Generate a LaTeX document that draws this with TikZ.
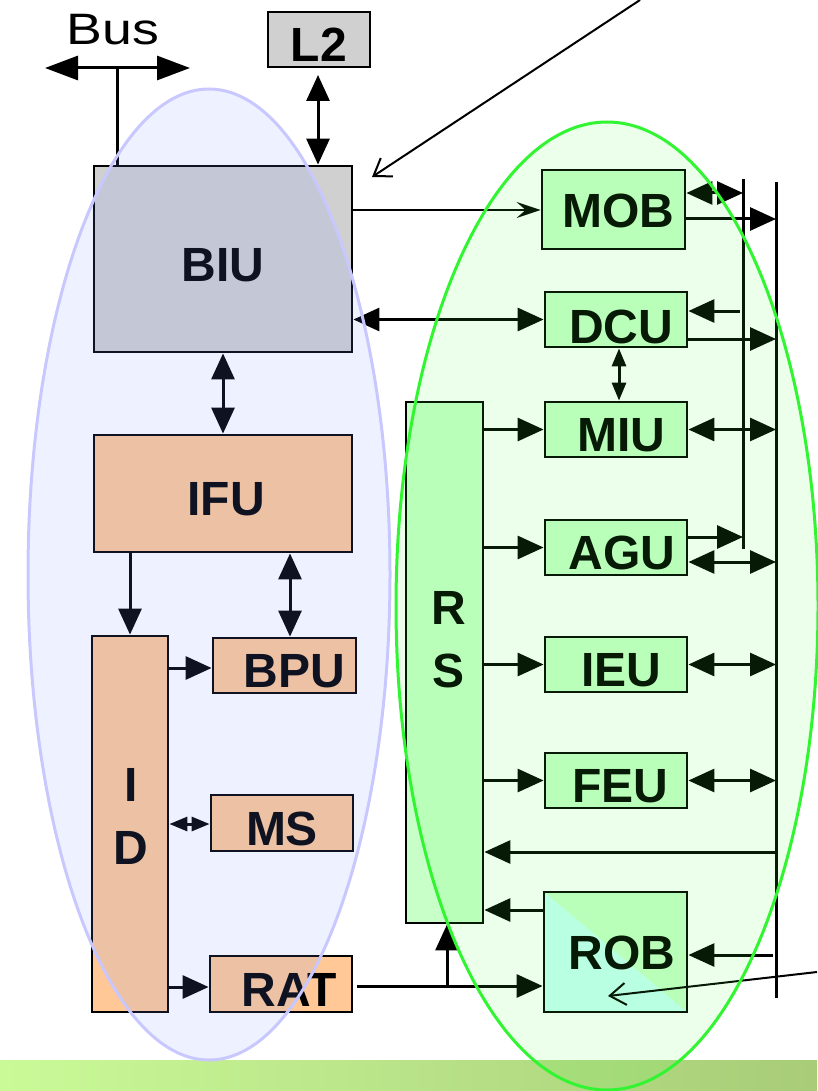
\documentclass[tikz,border=0pt]{standalone}
\usepackage{fontspec}
\setmainfont{Liberation Sans}
\usepackage{graphicx}
\usetikzlibrary{arrows.meta,calc}
\definecolor{grayc}{RGB}{208,208,208}
\definecolor{orc}{RGB}{255,200,150}
\definecolor{grc}{RGB}{200,255,200}
\definecolor{cyc}{RGB}{200,255,245}
\definecolor{blueov}{RGB}{120,150,255}
\definecolor{blueln}{RGB}{200,200,255}
\definecolor{greenov}{RGB}{60,255,60}
\definecolor{greenln}{RGB}{50,245,50}
\definecolor{stripL}{RGB}{202,250,152}
\definecolor{stripR}{RGB}{168,204,120}
\begin{document}
\begin{tikzpicture}[x=1pt,y=-1pt,
  bx/.style={draw=black, line width=2.8pt, inner sep=0pt,
    font=\fontsize{48}{50}\selectfont\bfseries, text height=44pt, text depth=0pt},
  graybx/.style={bx, fill=grayc},
  orbx/.style={bx, fill=orc},
  grbx/.style={bx, fill=grc},
  lbl/.style={font=\fontsize{48}{63}\selectfont\bfseries, align=center, inner sep=0pt},
  ln/.style={line width=3pt, draw=black},
  ar/.style={ln, -{Triangle[length=26pt,width=23pt]}},
  dar/.style={ln, {Triangle[length=26pt,width=23pt]}-{Triangle[length=26pt,width=23pt]}},
  sdar/.style={ln, {Triangle[length=18pt,width=14pt]}-{Triangle[length=18pt,width=14pt]}},
  bigdar/.style={ln, {Triangle[length=33pt,width=24pt]}-{Triangle[length=33pt,width=24pt]}},
  stl/.style={line width=2.5pt, draw=black, -{Stealth[length=24pt,width=16pt,inset=9pt]}},
  ptr/.style={line width=2pt, draw=black, -{Straight Barb[length=16pt,width=22pt,line width=2pt]}},
  busline/.style={line width=3pt, draw=black}
]
\useasboundingbox (0,0) rectangle (817,1091);
\shade[left color=stripL, right color=stripR] (0,1060) rectangle (817,1091);

% ---- boxes ----
\node[graybx, minimum width=102pt, minimum height=55pt] (L2) at (319,39.5) {L2};
\node[graybx, minimum width=258pt, minimum height=186pt] (BIU) at (223,259) {BIU};
\node[orbx, minimum width=258pt, minimum height=117pt] (IFU) at (223,493.5) {\hspace*{6pt}IFU};
\node[orbx, minimum width=76pt, minimum height=376pt] (ID) at (130,824) {};
\node[lbl] (IDt) at (131,816) {I\\D};
\node[orbx, minimum width=143pt, minimum height=55pt] (BPU) at (284.5,665.5) {\hspace*{20pt}BPU};
\node[orbx, minimum width=142pt, minimum height=56pt] (MS) at (282,823) {MS};
\node[orbx, minimum width=142pt, minimum height=56pt] (RAT) at (281,984) {\hspace*{16pt}RAT};

\node[grbx, minimum width=77pt, minimum height=521pt] (RS) at (444.5,662.5) {};
\node[lbl] (RSt) at (449,640) {R\\S};
\node[grbx, minimum width=143pt, minimum height=79pt, text height=36pt] (MOB) at (613.5,209.5) {\hspace*{10pt}MOB};
\node[grbx, minimum width=142pt, minimum height=55pt, text height=48pt] (DCU) at (616,319.5) {\hspace*{10pt}DCU};
\node[grbx, minimum width=142pt, minimum height=55pt] (MIU) at (616,429.5) {\hspace*{10pt}MIU};
\node[grbx, minimum width=142pt, minimum height=55pt] (AGU) at (616,547.5) {\hspace*{12pt}AGU};
\node[grbx, minimum width=142pt, minimum height=55pt] (IEU) at (616,664.5) {\hspace*{10pt}IEU};
\node[grbx, minimum width=142pt, minimum height=55pt] (FEU) at (616,780.5) {\hspace*{8pt}FEU};
\node[grbx, minimum width=143pt, minimum height=120pt, text height=34pt,
  path picture={\fill[cyc] (path picture bounding box.north west) -- (path picture bounding box.south east) -- (path picture bounding box.south west) -- cycle;}]
  (ROB) at (615.5,952) {\hspace*{13pt}ROB};

% ---- Bus ----
\node[font=\fontsize{44}{46}\selectfont, anchor=base, inner sep=0pt] (Bus) at (113,45) {\scalebox{1.22}[1]{Bus}};
\coordinate (busL) at (45,68);
\coordinate (busR) at (190,68);
\coordinate (busJ) at (117,68);
\draw[bigdar] (busL) -- (busR);
\draw[ln] (busJ) -- (busJ |- BIU.north);

% ---- L2 ----
\coordinate (l2a) at (318,75);
\draw[dar] (l2a) -- (l2a |- BIU.north);

% ---- pointers ----
\coordinate (ptrTop) at (640,0);
\coordinate (ptrBIU) at (372,177);
\draw[ptr] (ptrTop) -- (ptrBIU);
\coordinate (ptrR) at (817,972);
\coordinate (ptrROB) at (608,996);
\draw[ptr] (ptrR) -- (ptrROB);

% ---- left cluster ----
\draw[stl] (BIU.east |- 0,210) -- (MOB.west |- 0,210);
\draw[dar] (BIU.east |- DCU.west) -- (DCU.west);
\draw[dar] (BIU.south) -- (IFU.north);
\draw[ar] (IFU.south -| ID.north) -- (ID.north);
\draw[dar] (IFU.south -| 290,0) -- (BPU.north -| 290,0);
\draw[ar] (ID.east |- 0,668) -- (BPU.west |- 0,668);
\draw[sdar] (ID.east |- 0,824) -- (MS.west |- 0,824);
\draw[ar] (ID.east |- 0,987) -- (RAT.west |- 0,987);

% ---- RAT to ROB / RS ----
\coordinate (ratOut) at (357,986);
\coordinate (j1) at (447,986);
\draw[ar] (ratOut) -- (ROB.west |- ratOut);
\draw[ar] (j1) -- (j1 |- RS.south);

% ---- RS outputs ----
\draw[ar] (RS.east |- MIU.west) -- (MIU.west);
\draw[ar] (RS.east |- AGU.west) -- (AGU.west);
\draw[ar] (RS.east |- IEU.west) -- (IEU.west);
\draw[ar] (RS.east |- FEU.west) -- (FEU.west);

% ---- buses ----
\coordinate (Atop) at (743,179);
\coordinate (Abot) at (743,549);
\coordinate (Btop) at (776,182);
\coordinate (Bbot) at (776,998);
\draw[busline] (Atop) -- (Abot);
\draw[busline] (Btop) -- (Bbot);

\draw[dar] (MOB.east |- 0,193) -- (Atop |- 0,193);
\draw[ar] (MOB.east |- 0,219) -- (Btop |- 0,219);
\draw[ar] ([xshift=-3pt]Atop |- 0,311) -- (DCU.east |- 0,311);
\draw[ar] (DCU.east |- 0,339) -- (Btop |- 0,339);
\draw[sdar] (DCU.south -| 619,0) -- (MIU.north -| 619,0);
\draw[dar] (MIU.east) -- (Btop |- MIU.east);
\draw[ar] (AGU.east |- 0,537) -- (Atop |- 0,537);
\draw[dar] (AGU.east |- 0,562) -- (Btop |- 0,562);
\draw[dar] (IEU.east) -- (Btop |- IEU.east);
\draw[dar] (FEU.east) -- (Btop |- FEU.east);
\draw[ar] (Btop |- 0,852) -- (RS.east |- 0,852);
\draw[ar] (ROB.west |- 0,910) -- (RS.east |- 0,910);
\draw[ar] ([xshift=-3pt]Btop |- 0,955) -- (ROB.east |- 0,955);

% ---- overlays ----
\path[fill=blueov, fill opacity=0.13, draw=blueln, line width=3pt]
  (209,574.5) ellipse [x radius=181pt, y radius=485.5pt];
\path[fill=greenov, fill opacity=0.1, draw=greenln, line width=3pt]
  (607,606) ellipse [x radius=211pt, y radius=484pt];
\end{tikzpicture}
\end{document}
